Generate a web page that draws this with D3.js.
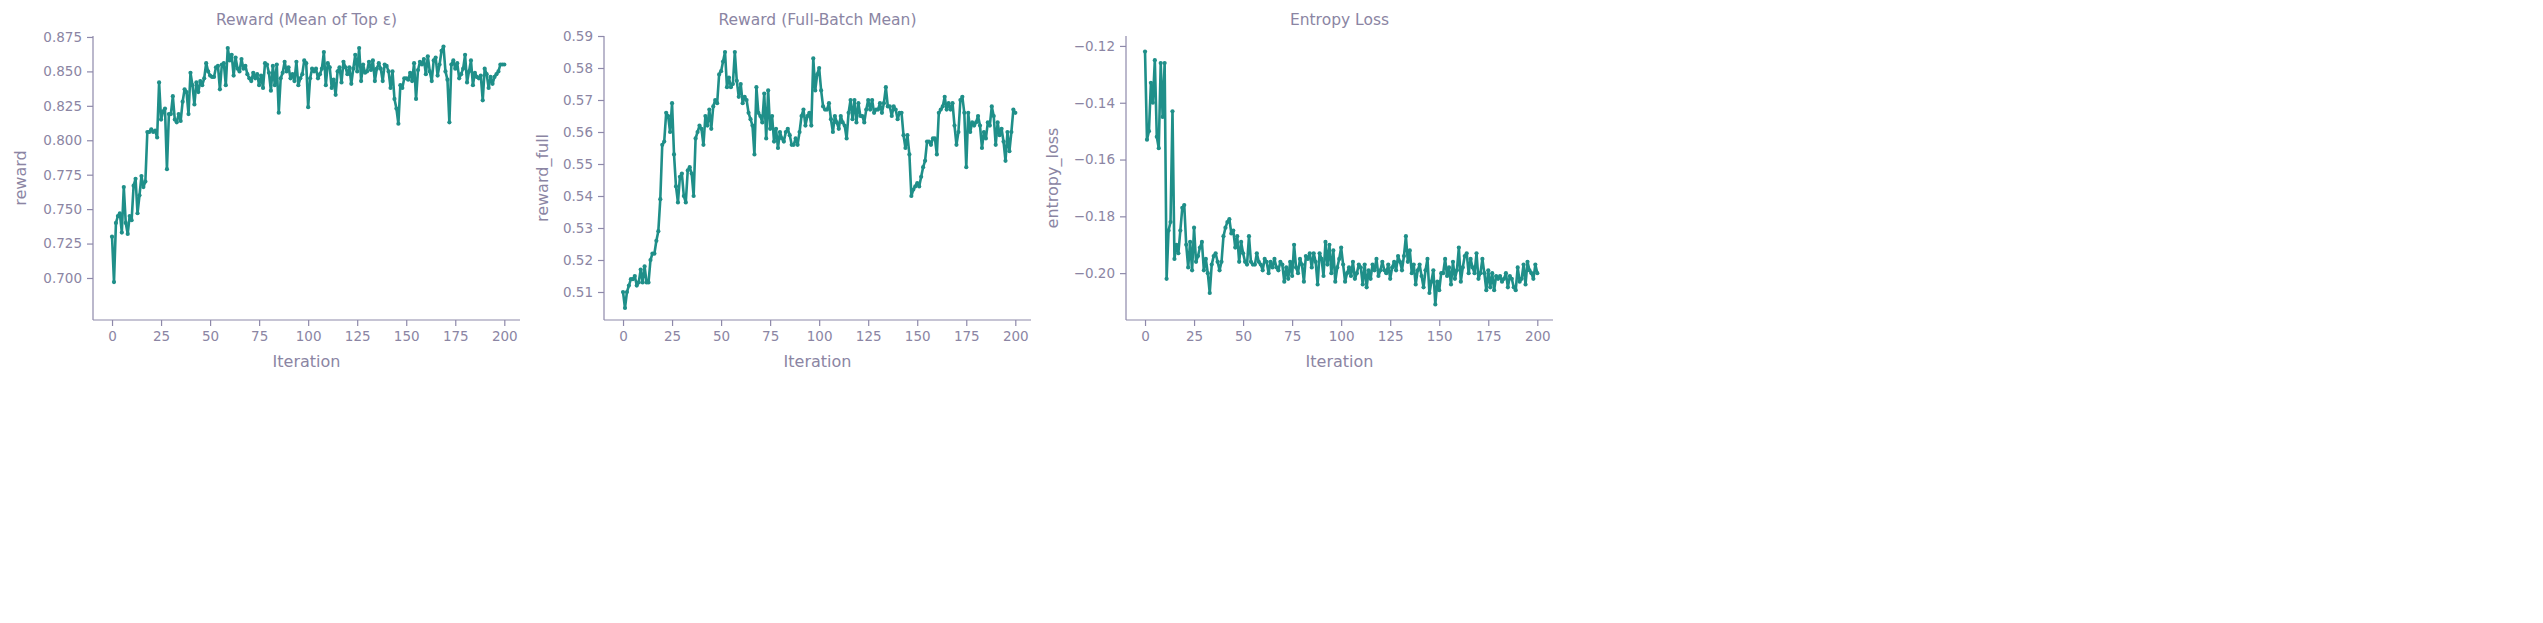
<!DOCTYPE html>
<html><head><meta charset="utf-8">
<script src="https://cdn.jsdelivr.net/npm/d3@7"></script>
<style>body{margin:0;background:#fff}text{font-family:"DejaVu Sans",sans-serif}</style>
</head><body><svg id="c" width="2543" height="623"></svg>
<script>
const iterations = d3.range(0, 201);
const reward = [0.730,0.697,0.740,0.745,0.747,0.733,0.766,0.740,0.732,0.745,
0.742,0.767,0.772,0.747,0.760,0.774,0.766,0.770,0.806,0.806,
0.808,0.806,0.807,0.802,0.842,0.815,0.821,0.823,0.779,0.819,
0.819,0.832,0.815,0.813,0.819,0.814,0.828,0.837,0.835,0.819,
0.849,0.840,0.826,0.842,0.835,0.843,0.840,0.845,0.856,0.850,
0.847,0.846,0.846,0.853,0.854,0.837,0.855,0.856,0.840,0.867,
0.858,0.862,0.847,0.860,0.852,0.850,0.859,0.852,0.854,0.848,
0.845,0.843,0.849,0.845,0.848,0.840,0.847,0.838,0.856,0.855,
0.849,0.836,0.854,0.840,0.855,0.820,0.845,0.849,0.857,0.850,
0.853,0.845,0.848,0.843,0.857,0.840,0.845,0.848,0.858,0.856,
0.824,0.845,0.852,0.850,0.852,0.845,0.848,0.852,0.864,0.840,
0.856,0.853,0.838,0.844,0.833,0.850,0.853,0.842,0.857,0.853,
0.848,0.853,0.841,0.852,0.862,0.850,0.867,0.843,0.855,0.849,
0.850,0.857,0.851,0.858,0.843,0.852,0.856,0.852,0.843,0.855,
0.854,0.850,0.838,0.850,0.830,0.823,0.812,0.840,0.838,0.845,
0.845,0.844,0.849,0.843,0.856,0.830,0.851,0.857,0.855,0.859,
0.848,0.861,0.850,0.843,0.858,0.860,0.847,0.855,0.865,0.868,
0.850,0.844,0.813,0.855,0.858,0.852,0.856,0.845,0.848,0.852,
0.862,0.842,0.850,0.858,0.840,0.849,0.846,0.845,0.847,0.829,
0.852,0.848,0.838,0.846,0.841,0.846,0.848,0.850,0.855,0.855,0.855];
const rewardFull = [0.510,0.505,0.510,0.512,0.514,0.514,0.515,0.512,0.513,0.517,
0.513,0.518,0.513,0.513,0.520,0.522,0.522,0.526,0.529,0.539,
0.556,0.557,0.566,0.565,0.560,0.569,0.553,0.543,0.538,0.546,
0.547,0.540,0.538,0.548,0.549,0.547,0.540,0.558,0.560,0.562,
0.561,0.556,0.565,0.562,0.567,0.561,0.568,0.570,0.569,0.578,
0.579,0.582,0.585,0.574,0.577,0.574,0.575,0.585,0.576,0.571,
0.575,0.569,0.571,0.570,0.566,0.564,0.562,0.553,0.574,0.566,
0.565,0.563,0.572,0.558,0.573,0.561,0.565,0.557,0.561,0.555,
0.560,0.558,0.557,0.560,0.561,0.559,0.556,0.556,0.558,0.556,
0.560,0.565,0.567,0.562,0.565,0.566,0.562,0.583,0.573,0.578,
0.580,0.573,0.568,0.567,0.567,0.569,0.564,0.560,0.565,0.563,
0.561,0.565,0.563,0.562,0.558,0.566,0.570,0.564,0.570,0.563,
0.569,0.565,0.565,0.563,0.567,0.570,0.567,0.570,0.566,0.567,
0.567,0.569,0.566,0.569,0.574,0.568,0.568,0.565,0.568,0.567,
0.564,0.566,0.566,0.559,0.555,0.559,0.553,0.540,0.542,0.543,
0.544,0.543,0.546,0.549,0.551,0.557,0.557,0.556,0.558,0.558,
0.553,0.566,0.567,0.568,0.571,0.567,0.569,0.567,0.569,0.562,
0.556,0.560,0.570,0.571,0.566,0.549,0.566,0.560,0.563,0.562,
0.563,0.565,0.562,0.555,0.560,0.558,0.563,0.562,0.568,0.565,
0.556,0.563,0.559,0.561,0.557,0.551,0.560,0.554,0.560,0.567,0.566];
const entropyLoss = [-0.122,-0.153,-0.150,-0.133,-0.140,-0.125,-0.152,-0.156,-0.126,-0.145,
-0.126,-0.202,-0.185,-0.182,-0.143,-0.195,-0.190,-0.193,-0.185,-0.177,
-0.176,-0.190,-0.198,-0.189,-0.199,-0.184,-0.196,-0.194,-0.191,-0.189,
-0.199,-0.195,-0.200,-0.207,-0.197,-0.194,-0.193,-0.196,-0.199,-0.196,
-0.187,-0.184,-0.182,-0.181,-0.186,-0.185,-0.191,-0.187,-0.196,-0.189,
-0.193,-0.196,-0.197,-0.187,-0.196,-0.197,-0.197,-0.193,-0.196,-0.197,
-0.199,-0.195,-0.196,-0.200,-0.196,-0.198,-0.195,-0.198,-0.199,-0.196,
-0.197,-0.203,-0.198,-0.202,-0.196,-0.201,-0.190,-0.198,-0.200,-0.195,
-0.197,-0.203,-0.194,-0.195,-0.193,-0.198,-0.193,-0.196,-0.204,-0.193,
-0.195,-0.201,-0.189,-0.197,-0.190,-0.200,-0.192,-0.203,-0.198,-0.195,
-0.191,-0.197,-0.203,-0.200,-0.198,-0.201,-0.196,-0.202,-0.200,-0.197,
-0.198,-0.204,-0.197,-0.205,-0.199,-0.202,-0.197,-0.199,-0.195,-0.201,
-0.199,-0.196,-0.199,-0.200,-0.197,-0.202,-0.198,-0.196,-0.199,-0.194,
-0.196,-0.199,-0.194,-0.187,-0.196,-0.192,-0.200,-0.197,-0.204,-0.199,
-0.197,-0.201,-0.205,-0.199,-0.195,-0.207,-0.203,-0.199,-0.211,-0.203,
-0.206,-0.200,-0.200,-0.195,-0.201,-0.198,-0.204,-0.196,-0.202,-0.199,
-0.191,-0.203,-0.198,-0.194,-0.193,-0.200,-0.195,-0.198,-0.200,-0.193,
-0.202,-0.200,-0.195,-0.200,-0.206,-0.199,-0.205,-0.200,-0.206,-0.201,
-0.202,-0.201,-0.203,-0.202,-0.200,-0.205,-0.201,-0.202,-0.205,-0.206,
-0.198,-0.203,-0.202,-0.197,-0.204,-0.196,-0.199,-0.200,-0.202,-0.197,-0.200];
const xTicks = [0,25,50,75,100,125,150,175,200];
const titles = ["Reward (Mean of Top ε)","Reward (Full-Batch Mean)","Entropy Loss"];
const yLabels = ["reward","reward_full","entropy_loss"];
const yTicks1 = [0.700,0.725,0.750,0.775,0.800,0.825,0.850,0.875];
const yTicks2 = [0.51,0.52,0.53,0.54,0.55,0.56,0.57,0.58,0.59];
const yTicks3 = [-0.20,-0.18,-0.16,-0.14,-0.12];

const panels = [
 {vals:reward, ticks:yTicks1, fmt:d3.format(".3f"), dom:[0.6695,0.8757], x0:93, x1:520, lx:20},
 {vals:rewardFull, ticks:yTicks2, fmt:d3.format(".2f"), dom:[0.50125,0.59], x0:604, x1:1031, lx:542},
 {vals:entropyLoss, ticks:yTicks3, fmt:d => d3.format(".2f")(d).replace("-","\u2212"), dom:[-0.2165,-0.1165], x0:1126, x1:1553, lx:1052}
];
const txt="#8b85a3", axc="#8e89aa", lc="#1f8f89";
const yTop=36, yBot=320;
const svg=d3.select("#c");
panels.forEach((p,i)=>{
  const x=d3.scaleLinear().domain([-9.7,208]).range([p.x0,p.x1]);
  const y=d3.scaleLinear().domain(p.dom).range([yBot,yTop]);
  const g=svg.append("g");
  const xa=g.append("g").attr("transform",`translate(0,${yBot})`).call(d3.axisBottom(x).tickValues(xTicks).tickSize(6).tickPadding(5));
  const ya=g.append("g").attr("transform",`translate(${p.x0},0)`).call(d3.axisLeft(y).tickValues(p.ticks).tickFormat(p.fmt).tickSize(6).tickPadding(5));
  [xa,ya].forEach(a=>{a.selectAll("path,line").attr("stroke",axc).attr("stroke-width",1.2);
    a.select(".domain").attr("d", a===xa?`M${p.x0},0H${p.x1}`:`M0,${yTop}V${yBot}`);
    a.selectAll("text").attr("fill",txt).attr("font-size",13.5);});
  g.append("text").attr("x",(p.x0+p.x1)/2).attr("y",25).attr("text-anchor","middle").attr("fill",txt).attr("font-size",15.5).text(titles[i]);
  g.append("text").attr("x",(p.x0+p.x1)/2).attr("y",367).attr("text-anchor","middle").attr("fill",txt).attr("font-size",16).text("Iteration");
  g.append("text").attr("transform",`translate(${p.lx+6},${(yTop+yBot)/2}) rotate(-90)`).attr("text-anchor","middle").attr("fill",txt).attr("font-size",16).text(yLabels[i]);
  const line=d3.line().x((d,j)=>x(iterations[j])).y(d=>y(d));
  g.append("path").datum(p.vals).attr("d",line).attr("fill","none").attr("stroke",lc).attr("stroke-width",2.6).attr("stroke-linejoin","round");
  g.selectAll("circle").data(p.vals).join("circle").attr("cx",(d,j)=>x(iterations[j])).attr("cy",d=>y(d)).attr("r",2.1).attr("fill",lc);
});
</script></body></html>
